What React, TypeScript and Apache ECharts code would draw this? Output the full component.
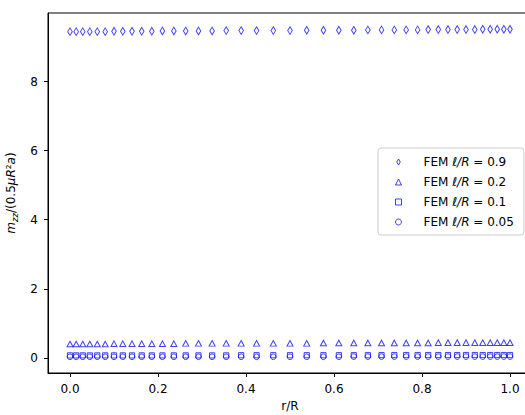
import React, { useEffect, useRef } from "react";
import * as echarts from "echarts";

// r/R positions (graded mesh nodes)
const rValues = [
  0, 0.014, 0.029, 0.045, 0.062, 0.08, 0.1, 0.12, 0.141, 0.163,
  0.186, 0.21, 0.236, 0.263, 0.292, 0.323, 0.355, 0.389, 0.424, 0.462,
  0.5,
  0.538, 0.576, 0.611, 0.645, 0.677, 0.708, 0.737, 0.764, 0.79, 0.814,
  0.837, 0.859, 0.88, 0.9, 0.92, 0.938, 0.955, 0.971, 0.986, 1.0,
];

const mzzL09 = [
  9.45, 9.45, 9.45, 9.45, 9.45, 9.45, 9.46, 9.46, 9.46, 9.46,
  9.46, 9.47, 9.47, 9.47, 9.47, 9.47, 9.48, 9.48, 9.48, 9.48,
  9.48,
  9.49, 9.49, 9.49, 9.49, 9.5, 9.5, 9.5, 9.5, 9.5, 9.51,
  9.51, 9.51, 9.51, 9.51, 9.51, 9.52, 9.52, 9.52, 9.52, 9.52,
];

const mzzL02 = [
  0.4, 0.4, 0.4, 0.4, 0.4, 0.4, 0.41, 0.41, 0.41, 0.41,
  0.41, 0.41, 0.41, 0.42, 0.42, 0.42, 0.42, 0.42, 0.42, 0.42,
  0.42,
  0.42, 0.43, 0.43, 0.43, 0.43, 0.43, 0.43, 0.43, 0.43, 0.43,
  0.44, 0.44, 0.44, 0.44, 0.44, 0.44, 0.44, 0.44, 0.44, 0.44,
];

const mzzL01 = [
  0.07, 0.07, 0.07, 0.07, 0.07, 0.07, 0.07, 0.07, 0.07, 0.07,
  0.07, 0.07, 0.07, 0.07, 0.07, 0.07, 0.07, 0.075, 0.075, 0.075,
  0.075,
  0.075, 0.075, 0.075, 0.075, 0.075, 0.08, 0.08, 0.08, 0.08, 0.08,
  0.08, 0.08, 0.08, 0.08, 0.08, 0.08, 0.08, 0.08, 0.08, 0.08,
];

const mzzL005 = [
  0.03, 0.03, 0.03, 0.03, 0.03, 0.03, 0.03, 0.03, 0.03, 0.03,
  0.03, 0.03, 0.03, 0.03, 0.03, 0.03, 0.03, 0.03, 0.03, 0.03,
  0.03,
  0.03, 0.03, 0.03, 0.035, 0.035, 0.035, 0.035, 0.035, 0.035, 0.035,
  0.035, 0.035, 0.035, 0.035, 0.035, 0.035, 0.035, 0.035, 0.035, 0.035,
];

const seriesNames = ["FEM ℓ/R = 0.9", "FEM ℓ/R = 0.2", "FEM ℓ/R = 0.1", "FEM ℓ/R = 0.05"];
const legendValues = ["0.9", "0.2", "0.1", "0.05"];
const xTicks = [0, 0.2, 0.4, 0.6, 0.8, 1.0];
const yTicks = [0, 2, 4, 6, 8];

const BLUE = "#1010ff";
const FONT = "DejaVu Sans";
const FS = 12;
const DIAMOND = "path://M3,0L6,5L3,10L0,5Z";

export default function App() {
  const ref = useRef<HTMLDivElement>(null);

  useEffect(() => {
    if (!ref.current) return;
    const chart = echarts.init(ref.current, undefined, { renderer: "svg" });

    const mk = (vals: number[]) => rValues.map((r, i) => [r, vals[i]]);
    const markerStyle = { color: "rgba(0,0,0,0)", borderColor: BLUE, borderWidth: 1 };
    const symbols: any[] = [
      { symbol: DIAMOND, symbolSize: [4.6, 7.6], symbolKeepAspect: false },
      { symbol: "triangle", symbolSize: [6, 5.6] },
      { symbol: "rect", symbolSize: 5.2 },
      { symbol: "circle", symbolSize: 5.6 },
    ];
    const datasets = [mzzL09, mzzL02, mzzL01, mzzL005];
    const legendIcons = [DIAMOND, "triangle", "rect", "circle"];

    const option: any = {
      animation: false,
      textStyle: { fontFamily: FONT },
      grid: {
        left: 48,
        top: 13,
        width: 484,
        height: 360,
        outerBoundsMode: "none",
        containLabel: false,
        show: true,
        borderColor: "#000",
        borderWidth: 1,
        backgroundColor: "transparent",
      },
      xAxis: {
        type: "value",
        min: -0.05,
        max: 1.05,
        name: "r/R",
        nameLocation: "middle",
        nameGap: 27,
        nameTextStyle: { fontFamily: FONT, fontSize: FS, color: "#000" },
        axisLine: { show: true, onZero: false, lineStyle: { color: "#000", width: 1 } },
        axisTick: { show: true, length: 4, customValues: xTicks, lineStyle: { color: "#000" } },
        axisLabel: {
          customValues: xTicks,
          margin: 10,
          fontFamily: FONT,
          fontSize: FS,
          color: "#000",
          formatter: (v: number) => v.toFixed(1),
        },
        splitLine: { show: false },
      },
      yAxis: {
        type: "value",
        min: -0.44,
        max: 9.99,
        name: "{i|m}{sub|zz}{n|/(0.5}{i|μR}{n|²}{i|a}{n|)}",
        nameLocation: "middle",
        nameGap: 25,
        nameRotate: 90,
        nameTextStyle: {
          fontFamily: FONT,
          fontSize: FS,
          color: "#000",
          rich: {
            n: { fontFamily: FONT, fontSize: FS, color: "#000" },
            i: { fontFamily: FONT, fontSize: FS, fontStyle: "italic", color: "#000" },
            sub: { fontFamily: FONT, fontSize: 8.5, fontStyle: "italic", color: "#000", padding: [8, 0, 0, 0] },
          },
        },
        axisLine: { show: true, onZero: false, lineStyle: { color: "#000", width: 1 } },
        axisTick: { show: true, length: 4, customValues: yTicks, lineStyle: { color: "#000" } },
        axisLabel: {
          customValues: yTicks,
          margin: 10,
          fontFamily: FONT,
          fontSize: FS,
          color: "#000",
          formatter: (v: number) => String(v),
        },
        splitLine: { show: false },
      },
      legend: {
        orient: "vertical",
        left: 378,
        top: 148,
        padding: [7, 10, 6, 17],
        itemWidth: 6,
        itemHeight: 6,
        itemGap: 6,
        backgroundColor: "rgba(255,255,255,0.85)",
        borderColor: "#cccccc",
        borderWidth: 1,
        borderRadius: 3,
        data: seriesNames.map((n, i) => ({
          name: n,
          icon: legendIcons[i],
          itemStyle: markerStyle,
        })),
        formatter: (name: string) => {
          const idx = seriesNames.indexOf(name);
          return "{sp| }{n|FEM }{i|ℓ/R}{n| = " + legendValues[idx] + "}";
        },
        textStyle: {
          fontFamily: FONT,
          fontSize: FS,
          lineHeight: 14,
          color: "#000",
          rich: {
            sp: { width: 17, fontSize: FS, lineHeight: 14 },
            n: { fontFamily: FONT, fontSize: FS, lineHeight: 14, color: "#000" },
            i: { fontFamily: FONT, fontSize: FS, lineHeight: 14, fontStyle: "italic", color: "#000" },
          },
        },
      },
      series: datasets.map((vals, i) => ({
        type: "scatter",
        name: seriesNames[i],
        data: mk(vals),
        ...symbols[i],
        itemStyle: markerStyle,
        emphasis: { disabled: true },
        z: 3 + i,
      })),
    };

    chart.setOption(option);
    return () => chart.dispose();
  }, []);

  return (
    <div
      ref={ref}
      style={{ position: "fixed", left: 0, top: 0, width: 525, height: 415, background: "#fff" }}
    />
  );
}
